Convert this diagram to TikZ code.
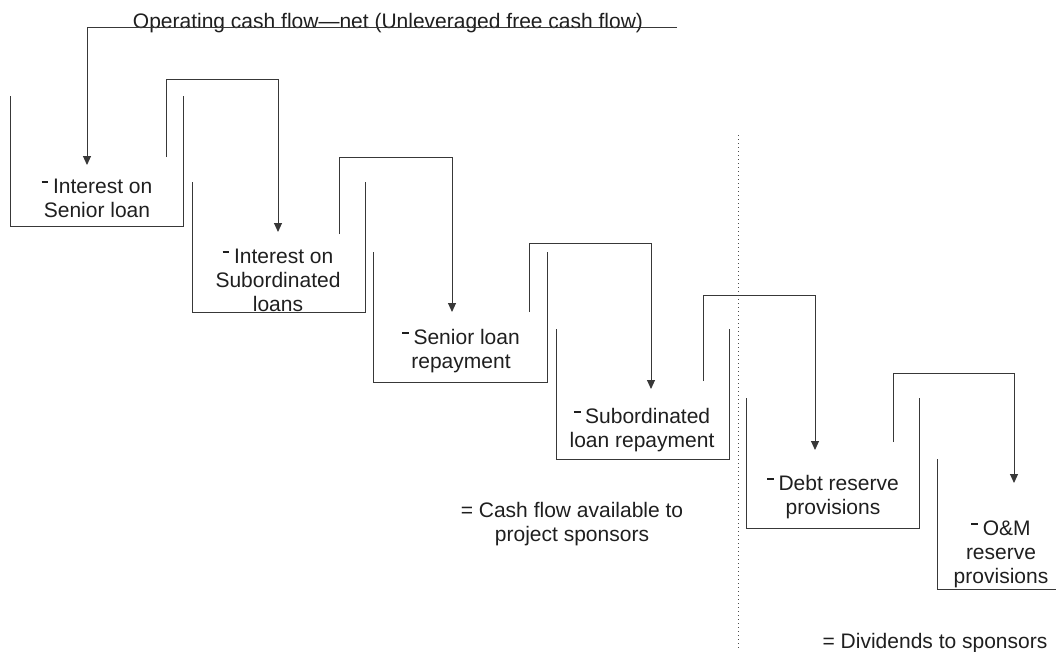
\documentclass[tikz,border=0pt]{standalone}
\usepackage{fontspec}
\setmainfont{Liberation Sans}
\usetikzlibrary{arrows.meta}
% small raised minus placed before each deduction
\newcommand{\subtr}{\raisebox{0.5em}{\rule{0.32em}{0.07em}}\hspace{0.22em}}
\begin{document}
\begin{tikzpicture}[x=1pt,y=-1pt,
  ink/.style={draw=black!78,line width=1pt},
  flow/.style={ink,-{Triangle[width=8pt,length=9pt]}},
  basin/.style={ink},
  label/.style={font=\fontsize{21}{24}\selectfont,align=center,anchor=base,inner sep=0pt,text=black!88},
  divider/.style={draw=black!70,line width=0.9pt,dash pattern=on 1pt off 3pt}]
\useasboundingbox (0,0) rectangle (1056,651);

% divider between debt service and reserves
\draw[divider] (738,135) -- (738,651);

% open-topped basins, one per deduction
\draw[basin] (10,96) -- (10,226) -- (183,226) -- (183,96);
\draw[basin] (192,182) -- (192,312) -- (365,312) -- (365,182);
\draw[basin] (373,252) -- (373,382) -- (547,382) -- (547,252);
\draw[basin] (556,329) -- (556,459) -- (729,459) -- (729,329);
\draw[basin] (746,398) -- (746,528) -- (919,528) -- (919,398);
\draw[basin] (937,459) -- (937,589) -- (1056,589);

% labels (anchored on the baseline of their last line)
\node[label] (top) at (388,28) {Operating cash flow---net (Unleveraged free cash flow)};
\node[label] (s1) at (97,217) {\subtr Interest on\\Senior loan};
\node[label] (s2) at (278,311) {\subtr Interest on\\Subordinated\\loans};
\node[label] (s3) at (461,368) {\subtr Senior loan\\repayment};
\node[label] (s4) at (642,447) {\subtr Subordinated\\loan repayment};
\node[label] (s5) at (833,514) {\subtr Debt reserve\\provisions};
\node[label] (s6) at (1001,583) {\subtr O\&M\\reserve\\provisions};
\node[label] (cfa) at (572,541) {= Cash flow available to\\project sponsors};
\node[label] (div) at (935,648) {= Dividends to sponsors};

% connector end points
\coordinate (r0) at (677,27);  \coordinate (k0) at (87,27);   \coordinate (e0) at (87,165);
\coordinate (b1) at (166,157); \coordinate (k1) at (166,79);  \coordinate (e1) at (278,232);
\coordinate (b2) at (339,234); \coordinate (k2) at (339,157); \coordinate (e2) at (452,312);
\coordinate (b3) at (529,312); \coordinate (k3) at (529,243); \coordinate (e3) at (651,389);
\coordinate (b4) at (703,381); \coordinate (k4) at (703,295); \coordinate (e4) at (815,450);
\coordinate (b5) at (893,442); \coordinate (k5) at (893,373); \coordinate (e5) at (1014,483);

% cash passing from one basin to the next
\draw[flow] (r0) -- (k0) -- (e0);
\draw[flow] (b1) -- (k1) -| (e1);
\draw[flow] (b2) -- (k2) -| (e2);
\draw[flow] (b3) -- (k3) -| (e3);
\draw[flow] (b4) -- (k4) -| (e4);
\draw[flow] (b5) -- (k5) -| (e5);
\end{tikzpicture}
\end{document}
